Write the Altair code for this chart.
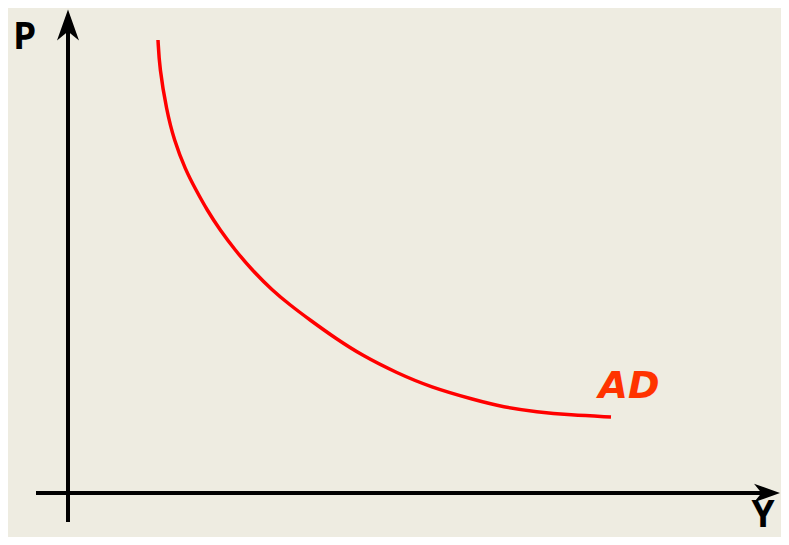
import altair as alt
import pandas as pd

# AD curve (Y = output, P = price level), chart units with origin at the axes' crossing
ad_y = [90, 91.5, 98.5, 106, 117.5, 128, 139, 152, 167, 184, 204, 222, 242, 267, 295, 329, 362, 407, 435, 469, 502, 543]
ad_p = [453, 425, 383, 353, 323, 303, 283, 263, 243, 223, 203, 188, 173, 155, 137, 120, 106, 93, 86, 81, 78, 76]

labels_text = ["P", "Y"]
labels_x = [-43.5, 695]
labels_y = [444, -34]

curve_label = ["AD"]
curve_label_x = [561]
curve_label_y = [95]

X_DOM = [-60, 713]
Y_DOM = [-44, 485]
xs = alt.Scale(domain=X_DOM)
ys = alt.Scale(domain=Y_DOM)

BG = "#EEECE1"

curve_df = pd.DataFrame({"Y": ad_y, "P": ad_p, "i": list(range(len(ad_y)))})
curve = alt.Chart(curve_df).mark_line(color="#FF0000", strokeWidth=3.5, interpolate="basis").encode(
    x=alt.X("Y:Q", scale=xs, axis=None),
    y=alt.Y("P:Q", scale=ys, axis=None),
    order="i:Q",
)

# axis lines
vaxis_df = pd.DataFrame({"x": [0], "y": [-29], "y2": [470]})
vaxis = alt.Chart(vaxis_df).mark_rule(color="black", strokeWidth=4).encode(
    x=alt.X("x:Q", scale=xs, axis=None),
    y=alt.Y("y:Q", scale=ys, axis=None),
    y2="y2:Q",
)
haxis_df = pd.DataFrame({"x": [-32], "x2": [701], "y": [0]})
haxis = alt.Chart(haxis_df).mark_rule(color="black", strokeWidth=4).encode(
    x=alt.X("x:Q", scale=xs, axis=None),
    x2="x2:Q",
    y=alt.Y("y:Q", scale=ys, axis=None),
)

ARROW = "M0,-1L0.71,1L0,0.42L-0.71,1Z"
arrows_df = pd.DataFrame({"x": [0, 699], "y": [468, 0], "ang": [0, 90], "sz": [961, 676]})
arrows = alt.Chart(arrows_df).mark_point(shape=ARROW, filled=True, color="black", opacity=1, strokeWidth=0).encode(
    x=alt.X("x:Q", scale=xs, axis=None),
    y=alt.Y("y:Q", scale=ys, axis=None),
    angle=alt.Angle("ang:Q", scale=None),
    size=alt.Size("sz:Q", scale=None, legend=None),
)

lab_df = pd.DataFrame({"t": labels_text, "x": labels_x, "y": labels_y})
labs = alt.Chart(lab_df).mark_text(
    font="Open Sans", fontWeight="bold", fontSize=37, color="black", align="center", baseline="alphabetic"
).encode(
    x=alt.X("x:Q", scale=xs, axis=None),
    y=alt.Y("y:Q", scale=ys, axis=None),
    text="t:N",
)

ad_df = pd.DataFrame({"t": curve_label, "x": curve_label_x, "y": curve_label_y})
adlab = alt.Chart(ad_df).mark_text(
    font="DejaVu Sans", fontWeight="bold", fontStyle="italic", fontSize=38, color="#FF3300",
    align="center", baseline="alphabetic"
).encode(
    x=alt.X("x:Q", scale=xs, axis=None),
    y=alt.Y("y:Q", scale=ys, axis=None),
    text="t:N",
)

chart = alt.layer(vaxis, haxis, arrows, curve, labs, adlab).properties(
    width=773, height=529,
    autosize=alt.AutoSizeParams(type="none"),
    padding=0,
    background=BG,
).configure_view(stroke=None)

chart.save("out.html", embed_options={"renderer": "svg", "actions": False})
